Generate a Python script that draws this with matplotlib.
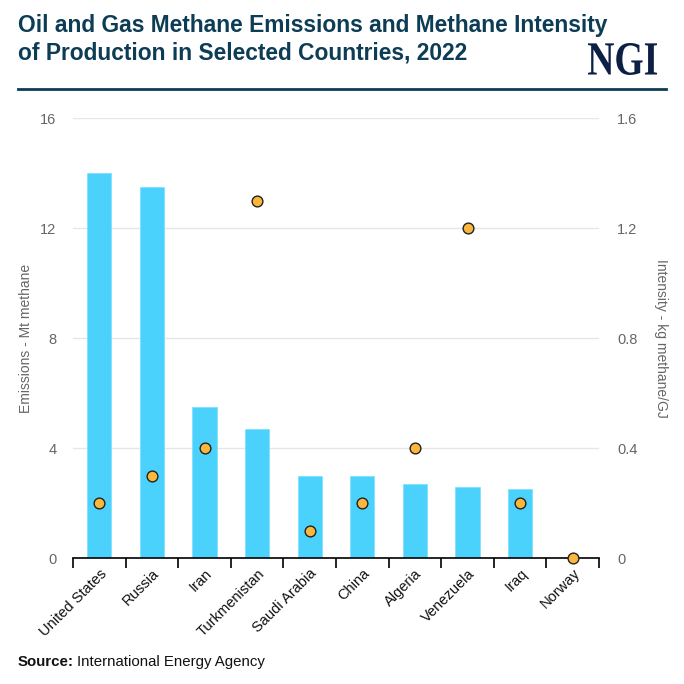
import matplotlib
matplotlib.use("Agg")
import matplotlib.pyplot as plt
import numpy as np
from matplotlib.textpath import TextPath
from matplotlib.font_manager import FontProperties
from matplotlib.patches import PathPatch
from matplotlib.transforms import Affine2D, IdentityTransform

countries = ["United States", "Russia", "Iran", "Turkmenistan", "Saudi Arabia",
             "China", "Algeria", "Venezuela", "Iraq", "Norway"]
emissions = [14.0, 13.5, 5.5, 4.7, 3.0, 3.0, 2.7, 2.6, 2.5, 0.0]
intensity = [0.2, 0.3, 0.4, 1.3, 0.1, 0.2, 0.4, 1.2, 0.2, 0.0]
left_ticks = [0, 4, 8, 12, 16]
right_ticks = [0, 0.4, 0.8, 1.2, 1.6]

plt.rcParams['font.family'] = ['Liberation Sans', 'DejaVu Sans']

W = H = 684
fig = plt.figure(figsize=(6.84, 6.84), dpi=100)
ax = fig.add_axes([73 / W, 1 - 558 / H, 526 / W, 440 / H])
ax2 = ax.twinx()

x = np.arange(len(countries))
ax.bar(x, emissions, width=0.46, color='#4ad2fc', edgecolor='#7fe0ff', linewidth=0.6, zorder=2)
ax2.scatter(x, intensity, s=60, color='#fbb73c', edgecolor='#222222', linewidth=1.0, zorder=5, clip_on=False)

ax.set_xlim(-0.5, len(countries) - 0.5)
ax.set_ylim(0, 16)
ax2.set_ylim(0, 1.6)
ax.set_yticks(left_ticks)
ax.set_yticklabels([str(t) for t in left_ticks])
ax2.set_yticks(right_ticks)
ax2.set_yticklabels(["0", "0.4", "0.8", "1.2", "1.6"])

ax.grid(axis='y', color='#e6e6e6', linewidth=1, zorder=0)
ax.set_axisbelow(True)

for a in (ax, ax2):
    for s in ['top', 'left', 'right']:
        a.spines[s].set_visible(False)
    a.tick_params(axis='y', length=0, colors='#666666', labelsize=10.5)
ax2.spines['bottom'].set_visible(False)
ax.spines['bottom'].set_color('#000000')
ax.spines['bottom'].set_linewidth(1.2)
ax.tick_params(axis='y', pad=12)
ax2.tick_params(axis='y', pad=13)

# category boundaries as ticks, names centred between them
ax.set_xticks(np.arange(-0.5, len(countries)), minor=False)
ax.set_xticklabels([])
ax.set_xticks(x, minor=True)
ax.set_xticklabels(countries, minor=True, rotation=45, ha='right', rotation_mode='anchor',
                   fontsize=10.5, color='#111111')
ax.tick_params(axis='x', which='major', length=7, width=1.2, color='#000000', direction='out')
ax.tick_params(axis='x', which='minor', length=0, pad=6)

ax.set_ylabel("Emissions - Mt methane", color='#666666', fontsize=10, labelpad=5)
ax2.set_ylabel("Intensity - kg methane/GJ", color='#666666', fontsize=10, rotation=270, labelpad=22)

fig.text(18 / W, 1 - 14 / H, "Oil and Gas Methane Emissions and Methane Intensity\nof Production in Selected Countries, 2022",
         ha='left', va='top', fontsize=16.4, fontweight='bold', color='#0d3c55', linespacing=1.25)

# NGI logo squeezed into its box
tp = TextPath((0, 0), "NGI", size=40, prop=FontProperties(family='Liberation Serif', weight='bold'))
bb = tp.get_extents()
x0, x1, y0, y1 = 588, 657, H - 75, H - 43
tr = Affine2D().translate(-bb.x0, -bb.y0).scale((x1 - x0) / bb.width, (y1 - y0) / bb.height).translate(x0, y0)
fig.add_artist(PathPatch(tr.transform_path(tp), transform=IdentityTransform(), facecolor='#0d1f45', edgecolor='none'))

fig.add_artist(plt.Line2D([18 / W, 666 / W], [1 - 89 / H, 1 - 89 / H], color='#0d3c55', linewidth=2))

fig.text(18 / W, 1 - 662 / H, "Source:", ha='left', va='center', fontsize=10.8, fontweight='bold', color='#111111')
fig.text(77 / W, 1 - 662 / H, "International Energy Agency", ha='left', va='center', fontsize=10.8, color='#111111')

fig.savefig("out.png", dpi=100)
